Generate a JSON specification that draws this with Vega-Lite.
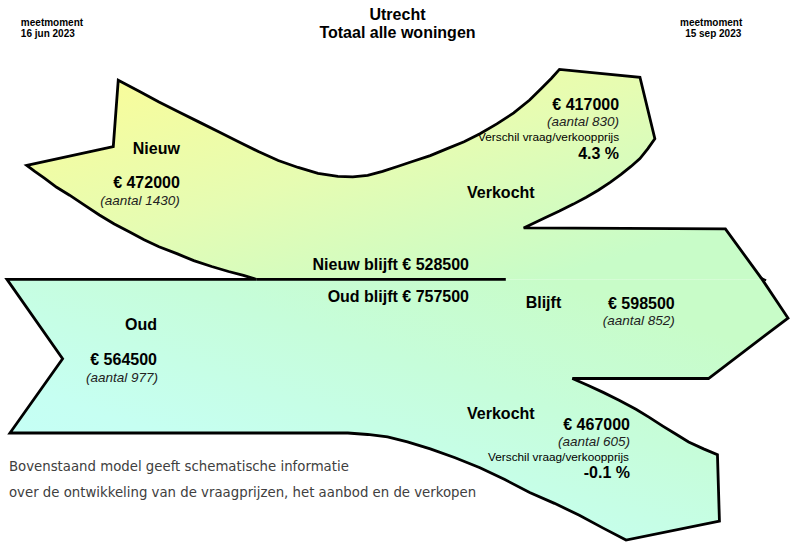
{
  "$schema": "https://vega.github.io/schema/vega-lite/v6.json",
  "width": 794,
  "height": 546,
  "padding": 0,
  "autosize": {"type": "fit", "contains": "padding"},
  "background": "white",
  "config": {"view": {"stroke": null}},
  "datasets": {
    "top": [
      {"i":1,"x":27,"y":167},{"i":2,"x":114,"y":148},{"i":3,"x":119,"y":81},{"i":4,"x":140,"y":92},
      {"i":5,"x":160,"y":103},{"i":6,"x":180,"y":113},{"i":7,"x":200,"y":123},{"i":8,"x":220,"y":133},
      {"i":9,"x":240,"y":143},{"i":10,"x":260,"y":153},{"i":11,"x":280,"y":162},{"i":12,"x":300,"y":169},
      {"i":13,"x":320,"y":175},{"i":14,"x":340,"y":178},{"i":15,"x":355,"y":178.5},{"i":16,"x":370,"y":177},
      {"i":17,"x":385,"y":173},{"i":18,"x":400,"y":168},{"i":19,"x":415,"y":163},{"i":20,"x":433,"y":157},
      {"i":21,"x":450,"y":150},{"i":22,"x":467,"y":143},{"i":23,"x":483,"y":135},{"i":24,"x":500,"y":125},
      {"i":25,"x":517,"y":114},{"i":26,"x":533,"y":101},{"i":27,"x":545,"y":89},{"i":28,"x":555,"y":79},
      {"i":29,"x":563,"y":70},{"i":30,"x":644,"y":78},{"i":31,"x":659,"y":140},{"i":32,"x":652,"y":150},
      {"i":33,"x":644,"y":160},{"i":34,"x":635,"y":168},{"i":35,"x":625,"y":176},{"i":36,"x":614,"y":184},
      {"i":37,"x":602,"y":192},{"i":38,"x":590,"y":199},{"i":39,"x":577,"y":206},{"i":40,"x":563,"y":213},
      {"i":41,"x":548,"y":220},{"i":42,"x":527,"y":230},{"i":43,"x":730,"y":231},{"i":44,"x":767,"y":282},
      {"i":45,"x":258,"y":282},{"i":46,"x":245,"y":278},{"i":47,"x":230,"y":274},{"i":48,"x":213,"y":269},
      {"i":49,"x":195,"y":263},{"i":50,"x":178,"y":256},{"i":51,"x":160,"y":249},{"i":52,"x":145,"y":242},
      {"i":53,"x":130,"y":234},{"i":54,"x":115,"y":226},{"i":55,"x":100,"y":217},{"i":56,"x":85,"y":207},
      {"i":57,"x":70,"y":197},{"i":58,"x":57,"y":189},{"i":59,"x":45,"y":180},{"i":60,"x":35,"y":173}
    ],
    "bottom": [
      {"i":1,"x":7,"y":282},{"i":2,"x":767,"y":282},{"i":3,"x":793,"y":321},{"i":4,"x":713,"y":382},
      {"i":5,"x":576,"y":382},{"i":6,"x":592,"y":389},{"i":7,"x":607,"y":396},{"i":8,"x":623,"y":404},
      {"i":9,"x":640,"y":413},{"i":10,"x":653,"y":421},{"i":11,"x":667,"y":430},{"i":12,"x":680,"y":438},
      {"i":13,"x":693,"y":446},{"i":14,"x":708,"y":453},{"i":15,"x":722,"y":459},{"i":16,"x":724,"y":526},
      {"i":17,"x":630,"y":545},{"i":18,"x":607,"y":533},{"i":19,"x":583,"y":520},{"i":20,"x":558,"y":508},
      {"i":21,"x":533,"y":497},{"i":22,"x":508,"y":484},{"i":23,"x":483,"y":472},{"i":24,"x":458,"y":462},
      {"i":25,"x":433,"y":453},{"i":26,"x":410,"y":446},{"i":27,"x":390,"y":441},{"i":28,"x":370,"y":438.5},
      {"i":29,"x":350,"y":437},{"i":30,"x":10,"y":437},{"i":31,"x":63,"y":362}
    ],
    "outline": [
      {"i":1,"x":27,"y":167},{"i":2,"x":114,"y":148},{"i":3,"x":119,"y":81},{"i":4,"x":140,"y":92},
      {"i":5,"x":160,"y":103},{"i":6,"x":180,"y":113},{"i":7,"x":200,"y":123},{"i":8,"x":220,"y":133},
      {"i":9,"x":240,"y":143},{"i":10,"x":260,"y":153},{"i":11,"x":280,"y":162},{"i":12,"x":300,"y":169},
      {"i":13,"x":320,"y":175},{"i":14,"x":340,"y":178},{"i":15,"x":355,"y":178.5},{"i":16,"x":370,"y":177},
      {"i":17,"x":385,"y":173},{"i":18,"x":400,"y":168},{"i":19,"x":415,"y":163},{"i":20,"x":433,"y":157},
      {"i":21,"x":450,"y":150},{"i":22,"x":467,"y":143},{"i":23,"x":483,"y":135},{"i":24,"x":500,"y":125},
      {"i":25,"x":517,"y":114},{"i":26,"x":533,"y":101},{"i":27,"x":545,"y":89},{"i":28,"x":555,"y":79},
      {"i":29,"x":563,"y":70},{"i":30,"x":644,"y":78},{"i":31,"x":659,"y":140},{"i":32,"x":652,"y":150},
      {"i":33,"x":644,"y":160},{"i":34,"x":635,"y":168},{"i":35,"x":625,"y":176},{"i":36,"x":614,"y":184},
      {"i":37,"x":602,"y":192},{"i":38,"x":590,"y":199},{"i":39,"x":577,"y":206},{"i":40,"x":563,"y":213},
      {"i":41,"x":548,"y":220},{"i":42,"x":527,"y":230},{"i":43,"x":730,"y":231},{"i":44,"x":767,"y":282},
      {"i":45,"x":793,"y":321},{"i":46,"x":713,"y":382},{"i":47,"x":576,"y":382},{"i":48,"x":592,"y":389},
      {"i":49,"x":607,"y":396},{"i":50,"x":623,"y":404},{"i":51,"x":640,"y":413},{"i":52,"x":653,"y":421},
      {"i":53,"x":667,"y":430},{"i":54,"x":680,"y":438},{"i":55,"x":693,"y":446},{"i":56,"x":708,"y":453},
      {"i":57,"x":722,"y":459},{"i":58,"x":724,"y":526},{"i":59,"x":630,"y":545},{"i":60,"x":607,"y":533},
      {"i":61,"x":583,"y":520},{"i":62,"x":558,"y":508},{"i":63,"x":533,"y":497},{"i":64,"x":508,"y":484},
      {"i":65,"x":483,"y":472},{"i":66,"x":458,"y":462},{"i":67,"x":433,"y":453},{"i":68,"x":410,"y":446},
      {"i":69,"x":390,"y":441},{"i":70,"x":370,"y":438.5},{"i":71,"x":350,"y":437},{"i":72,"x":10,"y":437},
      {"i":73,"x":63,"y":362},{"i":74,"x":7,"y":282},{"i":75,"x":258,"y":282},{"i":76,"x":245,"y":278},
      {"i":77,"x":230,"y":274},{"i":78,"x":213,"y":269},{"i":79,"x":195,"y":263},{"i":80,"x":178,"y":256},
      {"i":81,"x":160,"y":249},{"i":82,"x":145,"y":242},{"i":83,"x":130,"y":234},{"i":84,"x":115,"y":226},
      {"i":85,"x":100,"y":217},{"i":86,"x":85,"y":207},{"i":87,"x":70,"y":197},{"i":88,"x":57,"y":189},
      {"i":89,"x":45,"y":180},{"i":90,"x":35,"y":173}
    ],
    "sep": [{"i":1,"x":258,"y":282},{"i":2,"x":509,"y":282}],
    "tick": [{"i":1,"x":765,"y":280},{"i":2,"x":771,"y":283}],
    "labels": [
      {"kind":"boldR","x":181,"y":155,"text":"Nieuw"},
      {"kind":"boldR","x":181,"y":190,"text":"€ 472000"},
      {"kind":"boldR","x":158,"y":333,"text":"Oud"},
      {"kind":"boldR","x":158,"y":368,"text":"€ 564500"},
      {"kind":"boldR","x":472,"y":272,"text":"Nieuw blijft € 528500"},
      {"kind":"boldR","x":472,"y":305,"text":"Oud blijft € 757500"},
      {"kind":"boldR","x":623,"y":111,"text":"€ 417000"},
      {"kind":"boldR","x":623,"y":160,"text":"4.3 %"},
      {"kind":"boldR","x":679,"y":312,"text":"€ 598500"},
      {"kind":"boldR","x":634,"y":434,"text":"€ 467000"},
      {"kind":"boldR","x":634,"y":482,"text":"-0.1 %"},
      {"kind":"boldL","x":470,"y":200,"text":"Verkocht"},
      {"kind":"boldL","x":529,"y":311,"text":"Blijft"},
      {"kind":"boldL","x":470,"y":423,"text":"Verkocht"},
      {"kind":"italR","x":181,"y":207,"text":"(aantal 1430)"},
      {"kind":"italR","x":159,"y":386,"text":"(aantal 977)"},
      {"kind":"italR","x":623,"y":127,"text":"(aantal 830)"},
      {"kind":"italR","x":679,"y":328,"text":"(aantal 852)"},
      {"kind":"italR","x":634,"y":450,"text":"(aantal 605)"},
      {"kind":"smallR","x":623,"y":142,"text":"Verschil vraag/verkoopprijs"},
      {"kind":"smallR","x":633,"y":465,"text":"Verschil vraag/verkoopprijs"},
      {"kind":"headL","x":21,"y":26.5,"text":"meetmoment"},
      {"kind":"headL","x":21,"y":37.5,"text":"16 jun 2023"},
      {"kind":"headR","x":747,"y":26.5,"text":"meetmoment"},
      {"kind":"headR","x":746,"y":37.5,"text":"15 sep 2023"},
      {"kind":"title","x":400,"y":20,"text":"Utrecht"},
      {"kind":"title","x":400,"y":38,"text":"Totaal alle woningen"},
      {"kind":"foot","x":9,"y":475,"text":"Bovenstaand model geeft schematische informatie"},
      {"kind":"foot","x":9,"y":502,"text":"over de ontwikkeling van de vraagprijzen, het aanbod en de verkopen"}
    ]
  },
  "encoding": {
    "x": {"field": "x", "type": "quantitative", "scale": {"domain": [0, 794], "nice": false, "zero": false}, "axis": null},
    "y": {"field": "y", "type": "quantitative", "scale": {"domain": [0, 546], "nice": false, "zero": false, "reverse": true}, "axis": null}
  },
  "layer": [
    {
      "data": {"name": "top"},
      "mark": {"type": "line", "interpolate": "linear-closed", "strokeWidth": 0, "stroke": "transparent",
        "fill": {"gradient": "linear", "x1": 0, "y1": 0, "x2": 1, "y2": 1,
          "stops": [{"offset": 0, "color": "#fcfc96"}, {"offset": 0.45, "color": "#e6fcb2"}, {"offset": 0.85, "color": "#c8fcc8"}, {"offset": 1, "color": "#c8fcc8"}]}},
      "encoding": {"order": {"field": "i", "type": "quantitative"}}
    },
    {
      "data": {"name": "bottom"},
      "mark": {"type": "line", "interpolate": "linear-closed", "strokeWidth": 0, "stroke": "transparent",
        "fill": {"gradient": "linear", "x1": 0, "y1": 1, "x2": 1, "y2": 0,
          "stops": [{"offset": 0, "color": "#c4fffc"}, {"offset": 0.3, "color": "#c6fff2"}, {"offset": 0.6, "color": "#c6fdda"}, {"offset": 0.85, "color": "#c8fcc8"}, {"offset": 1, "color": "#c8fcc8"}]}},
      "encoding": {"order": {"field": "i", "type": "quantitative"}}
    },
    {
      "data": {"name": "outline"},
      "mark": {"type": "line", "interpolate": "linear-closed", "stroke": "black", "strokeWidth": 2.8, "strokeJoin": "miter", "fill": null},
      "encoding": {"order": {"field": "i", "type": "quantitative"}}
    },
    {
      "data": {"name": "sep"},
      "mark": {"type": "line", "stroke": "black", "strokeWidth": 2.8},
      "encoding": {"order": {"field": "i", "type": "quantitative"}}
    },
    {
      "data": {"name": "tick"},
      "mark": {"type": "line", "stroke": "black", "strokeWidth": 2},
      "encoding": {"order": {"field": "i", "type": "quantitative"}}
    },
    {
      "data": {"name": "labels"},
      "transform": [{"filter": "datum.kind === 'boldR'"}],
      "mark": {"type": "text", "align": "right", "baseline": "alphabetic", "font": "Liberation Sans", "fontWeight": "bold", "fontSize": 16, "color": "black"},
      "encoding": {"text": {"field": "text"}}
    },
    {
      "data": {"name": "labels"},
      "transform": [{"filter": "datum.kind === 'boldL'"}],
      "mark": {"type": "text", "align": "left", "baseline": "alphabetic", "font": "Liberation Sans", "fontWeight": "bold", "fontSize": 16, "color": "black"},
      "encoding": {"text": {"field": "text"}}
    },
    {
      "data": {"name": "labels"},
      "transform": [{"filter": "datum.kind === 'italR'"}],
      "mark": {"type": "text", "align": "right", "baseline": "alphabetic", "font": "Liberation Sans", "fontStyle": "italic", "fontSize": 13.5, "color": "#222222"},
      "encoding": {"text": {"field": "text"}}
    },
    {
      "data": {"name": "labels"},
      "transform": [{"filter": "datum.kind === 'smallR'"}],
      "mark": {"type": "text", "align": "right", "baseline": "alphabetic", "font": "Liberation Sans", "fontSize": 11.8, "color": "black"},
      "encoding": {"text": {"field": "text"}}
    },
    {
      "data": {"name": "labels"},
      "transform": [{"filter": "datum.kind === 'headL'"}],
      "mark": {"type": "text", "align": "left", "baseline": "alphabetic", "font": "Liberation Sans", "fontWeight": "bold", "fontSize": 10, "color": "black"},
      "encoding": {"text": {"field": "text"}}
    },
    {
      "data": {"name": "labels"},
      "transform": [{"filter": "datum.kind === 'headR'"}],
      "mark": {"type": "text", "align": "right", "baseline": "alphabetic", "font": "Liberation Sans", "fontWeight": "bold", "fontSize": 10, "color": "black"},
      "encoding": {"text": {"field": "text"}}
    },
    {
      "data": {"name": "labels"},
      "transform": [{"filter": "datum.kind === 'title'"}],
      "mark": {"type": "text", "align": "center", "baseline": "alphabetic", "font": "Liberation Sans", "fontWeight": "bold", "fontSize": 16, "color": "black"},
      "encoding": {"text": {"field": "text"}}
    },
    {
      "data": {"name": "labels"},
      "transform": [{"filter": "datum.kind === 'foot'"}],
      "mark": {"type": "text", "align": "left", "baseline": "alphabetic", "font": "DejaVu Sans", "fontSize": 13.3, "color": "#404040"},
      "encoding": {"text": {"field": "text"}}
    }
  ]
}
